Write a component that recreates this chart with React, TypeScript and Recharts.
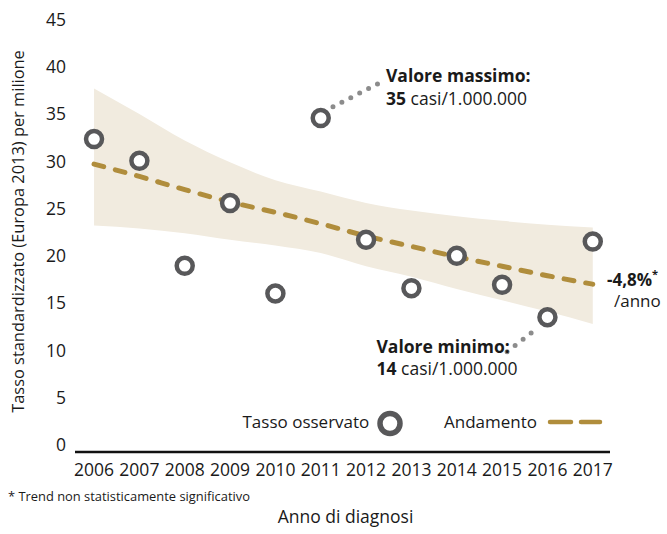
import React from 'react';
import { ComposedChart, Area, Line, XAxis, YAxis, ReferenceLine } from 'recharts';

const years = [2006, 2007, 2008, 2009, 2010, 2011, 2012, 2013, 2014, 2015, 2016, 2017];
const observed = [32.35, 30.05, 18.94, 25.58, 16.01, 34.57, 21.69, 16.58, 20.0, 16.93, 13.51, 21.51];
const trend = [29.7, 28.4, 27.0, 25.7, 24.6, 23.4, 22.1, 21.0, 19.9, 18.9, 17.9, 17.0];
const bandLow = [23.2, 22.9, 22.4, 21.7, 21.1, 20.3, 18.9, 17.8, 16.5, 15.3, 14.1, 12.8];
const bandHigh = [37.7, 35.0, 32.2, 29.9, 28.0, 26.8, 25.6, 24.8, 24.2, 23.7, 23.3, 23.0];
const yTicks = [0, 5, 10, 15, 20, 25, 30, 35, 40, 45];

const maxConnector = [{ x: 2011.27, y: 35.77 }, { x: 2012.26, y: 38.2 }];
const minConnector = [{ x: 2015.64, y: 11.85 }, { x: 2015.11, y: 9.84 }];

const data = years.map((year, i) => ({
  year,
  observed: observed[i],
  trend: trend[i],
  band: [bandLow[i], bandHigh[i]],
}));

const FONT = "'Open Sans', 'Noto Sans', sans-serif";
const TEXT = '#1a1a1a';
const GOLD = '#B08D3C';
const RING = '#58585A';
const BAND = '#F1EBDF';
const DOTS = '#8C8C8C';

export default function App() {
  return (
    <div style={{ position: 'absolute', left: 0, top: 0, width: 667, height: 534, background: '#fff' }}>
      <ComposedChart
        width={667}
        height={534}
        data={data}
        margin={{ top: 19.5, right: 57, bottom: 52, left: 0 }}
      >
        <XAxis
          dataKey="year"
          type="number"
          domain={[2005.58, 2017.38]}
          ticks={years}
          allowDataOverflow
          height={30}
          tickLine={false}
          tickSize={0}
          tickMargin={12}
          axisLine={{ stroke: '#111', strokeWidth: 2.6 }}
          tick={{ fill: TEXT, fontSize: 17.5, fontFamily: FONT }}
        />
        <YAxis
          type="number"
          domain={[-0.75, 45]}
          ticks={yTicks}
          allowDataOverflow
          width={75}
          axisLine={false}
          tickLine={false}
          tickSize={0}
          tickMargin={9}
          tick={{ fill: TEXT, fontSize: 17.5, fontFamily: FONT }}
        />
        <Area
          dataKey="band"
          type="monotone"
          stroke="none"
          fill={BAND}
          fillOpacity={1}
          isAnimationActive={false}
          activeDot={false}
        />
        <Line
          dataKey="trend"
          type="monotone"
          stroke={GOLD}
          strokeWidth={5}
          strokeDasharray="10 12"
          strokeLinecap="round"
          dot={false}
          activeDot={false}
          isAnimationActive={false}
        />
        <ReferenceLine
          segment={maxConnector}
          stroke={DOTS}
          strokeWidth={5}
          strokeDasharray="0 10"
          strokeLinecap="round"
          ifOverflow="visible"
        />
        <ReferenceLine
          segment={minConnector}
          stroke={DOTS}
          strokeWidth={5}
          strokeDasharray="0 10.2"
          strokeLinecap="round"
          ifOverflow="visible"
        />
        <Line
          dataKey="observed"
          stroke="none"
          dot={{ r: 8, stroke: RING, strokeWidth: 4.5, fill: '#fff' }}
          activeDot={false}
          isAnimationActive={false}
        />
      </ComposedChart>
      <svg
        width={667}
        height={534}
        style={{ position: 'absolute', left: 0, top: 0, pointerEvents: 'none' }}
        fontFamily={FONT}
        fill={TEXT}
      >
        <text
          transform="translate(23.5,231.5) rotate(-90)"
          textAnchor="middle"
          fontSize={16.4}
        >
          Tasso standardizzato (Europa 2013) per milione
        </text>
        <text x={345.5} y={523} textAnchor="middle" fontSize={17.5}>
          Anno di diagnosi
        </text>
        <text x={8} y={501} fontSize={12.9}>
          * Trend non statisticamente significativo
        </text>

        <text x={386} y={82} fontSize={17.5} fontWeight="bold">
          Valore massimo:
        </text>
        <text x={386} y={105} fontSize={17.5}>
          <tspan fontWeight="bold">35</tspan> casi/1.000.000
        </text>

        <text x={376.5} y={352.5} fontSize={17.5} fontWeight="bold">
          Valore minimo:
        </text>
        <text x={376.5} y={375} fontSize={17.5}>
          <tspan fontWeight="bold">14</tspan> casi/1.000.000
        </text>

        <text x={607} y={285.5} fontSize={17} fontWeight="bold">
          -4,8%
          <tspan fontSize={11} dy={-8}>*</tspan>
        </text>
        <text x={614} y={306.5} fontSize={17}>
          /anno
        </text>

        <text x={242.5} y={427.5} fontSize={17}>
          Tasso osservato
        </text>
        <circle cx={390} cy={423.5} r={10} fill="#fff" stroke={RING} strokeWidth={5.5} />
        <text x={444} y={427.5} fontSize={17}>
          Andamento
        </text>
        <line x1={550} y1={422} x2={571} y2={422} stroke={GOLD} strokeWidth={4.5} strokeLinecap="round" />
        <line x1={581} y1={422} x2={600} y2={422} stroke={GOLD} strokeWidth={4.5} strokeLinecap="round" />
      </svg>
    </div>
  );
}
